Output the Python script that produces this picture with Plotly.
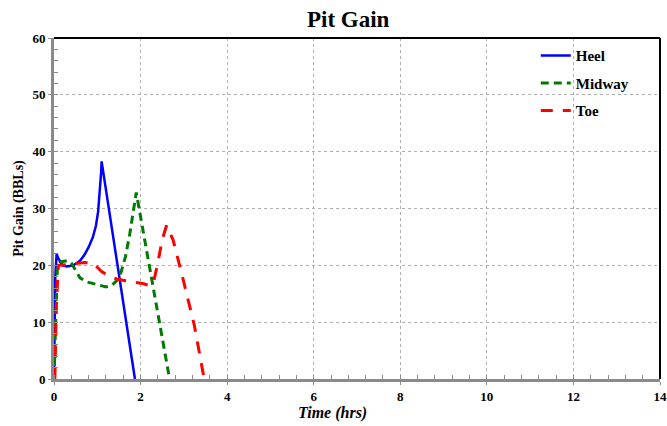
import plotly.graph_objects as go

# Data
heel_t = [0, 0.03, 0.06, 0.1, 0.2, 0.3, 0.45, 0.6, 0.7, 0.8, 0.9, 0.97, 1.02, 1.06, 1.09, 1.10, 1.87]
heel_v = [0, 18, 22.0, 21.2, 20.0, 19.8, 20.0, 20.8, 21.8, 23.2, 25.0, 27.0, 29.5, 33.0, 36.5, 38.3, 0]

mid_t = [0, 0.04, 0.08, 0.15, 0.3, 0.4, 0.5, 0.6, 0.75, 0.9, 1.05, 1.2, 1.35, 1.45, 1.55, 1.65, 1.75, 1.82, 1.87, 1.90, 2.67]
mid_v = [0, 12, 20.2, 20.6, 20.8, 20.4, 19.0, 17.8, 17.1, 16.8, 16.5, 16.2, 16.6, 17.3, 18.8, 21.5, 25.5, 29.0, 32.0, 32.8, 0]

toe_t = [0, 0.02, 0.05, 0.1, 0.3, 0.5, 0.7, 0.9, 1.0, 1.1, 1.25, 1.45, 1.65, 1.85, 2.05, 2.22, 2.3, 2.4, 2.5, 2.6, 2.75, 3.0, 3.24, 3.47]
toe_v = [0, 0, 12, 20.0, 20.1, 20.3, 20.5, 20.4, 19.6, 18.9, 18.2, 17.6, 17.3, 17.0, 16.8, 16.4, 17.0, 20.5, 24.5, 27.0, 24.5, 17.0, 9.5, 0]

x_ticks = [0, 2, 4, 6, 8, 10, 12, 14]
y_ticks = [0, 10, 20, 30, 40, 50, 60]

serif = "Liberation Serif, Times New Roman, serif"

fig = go.Figure()
fig.add_trace(go.Scatter(x=heel_t, y=heel_v, mode="lines", name="<b>Heel</b>",
                         line=dict(color="#0000FF", width=2.5), legendgroup="a"))
fig.add_trace(go.Scatter(x=mid_t, y=mid_v, mode="lines", name="<b>Midway</b>",
                         line=dict(color="#007A00", width=3, dash="8px,5px"), legendgroup="b"))
fig.add_trace(go.Scatter(x=toe_t, y=toe_v, mode="lines", name="<b>Toe</b>",
                         line=dict(color="#FF0000", width=3, dash="12px,10px"), legendgroup="c"))

axis_common = dict(
    showgrid=True, gridcolor="#b0b0b0", gridwidth=1, griddash="3px,3px",
    showline=True, linecolor="#8a8a8a", linewidth=3,
    ticks="outside", ticklen=3, tickcolor="#8a8a8a",
    tickfont=dict(family=serif, size=13, color="#000000"),
    zeroline=False, automargin=False,
)

fig.update_xaxes(range=[0, 14], tickvals=x_ticks, ticktext=[f"<b>{v}</b>" for v in x_ticks],
                 minor=dict(dtick=0.4, tick0=0, ticks="inside", ticklen=4, tickcolor="#8a8a8a", showgrid=False),
                 **axis_common)
fig.update_yaxes(range=[0, 60], tickvals=y_ticks, ticktext=[f"<b>{v}</b>" for v in y_ticks],
                 minor=dict(dtick=2, tick0=0, ticks="inside", ticklen=4, tickcolor="#8a8a8a", showgrid=False),
                 title=dict(text="<b>Pit Gain (BBLs)</b>", font=dict(family=serif, size=14, color="#000"), standoff=6),
                 **axis_common)

fig.add_shape(type="line", xref="paper", yref="paper", x0=0, x1=1, y0=1, y1=1,
              line=dict(color="#000000", width=2))
fig.add_shape(type="line", xref="paper", yref="paper", x0=1, x1=1, y0=0, y1=1,
              line=dict(color="#000000", width=2))

fig.add_annotation(text="<b><i>Time (hrs)</i></b>", xref="paper", yref="paper",
                   x=0.459, y=-0.10, xanchor="center", yanchor="middle", showarrow=False,
                   font=dict(family=serif, size=16, color="#000"))

fig.update_layout(
    width=667, height=426,
    margin=dict(l=54, r=7, t=38, b=47),
    paper_bgcolor="white", plot_bgcolor="white",
    title=dict(text="<b>Pit Gain</b>", x=0.522, xanchor="center", y=0.955, yanchor="middle",
               font=dict(family=serif, size=23, color="#000")),
    legend=dict(x=0.795, y=0.996, xanchor="left", yanchor="top", bgcolor="rgba(255,255,255,0)",
                font=dict(family=serif, size=15, color="#000"), tracegroupgap=5,
                itemwidth=30),
    showlegend=True,
)

fig.write_html("out.html", config={"displayModeBar": False},
               post_script="document.body.style.margin='0';document.body.style.overflow='hidden';")
